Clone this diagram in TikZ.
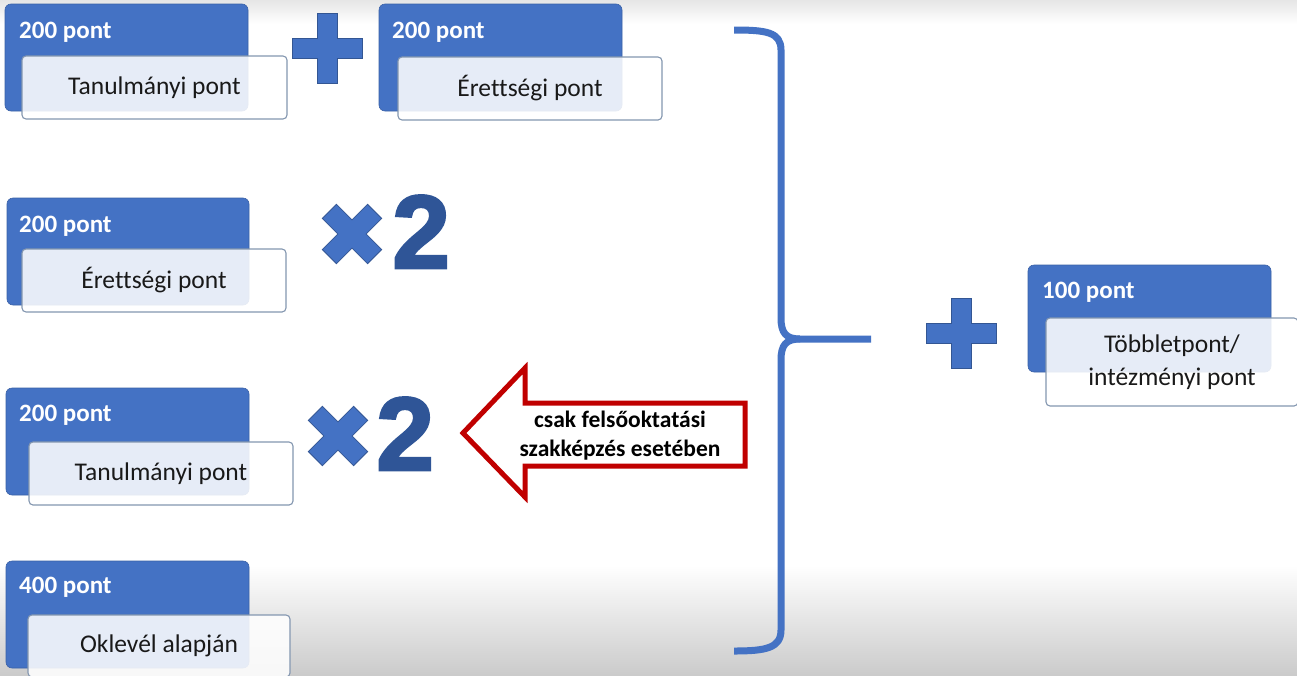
\documentclass[tikz,border=0pt]{standalone}
\usepackage{fontspec}
\setmainfont{Carlito}[Ligatures=NoCommon]
\newfontfamily\twofont{Liberation Sans Bold}[FakeBold=2.5]
\definecolor{myblue}{HTML}{4472C4}
\definecolor{darkblue}{HTML}{2F5597}
\definecolor{boxedge}{HTML}{8497B0}
\definecolor{myred}{HTML}{C00000}
\definecolor{bggray}{HTML}{CBCBCB}
\definecolor{topgray}{HTML}{E6E6E6}
\tikzset{
  blueback/.style={fill=myblue, draw=myblue!85!black, line width=0.6pt, rounded corners=6pt,
    anchor=north west, minimum width=243pt, minimum height=107pt, inner sep=0pt, outer sep=0pt},
  whitebox/.style={fill=white, fill opacity=0.87, text opacity=1, draw=boxedge, line width=1.1pt,
    rounded corners=4pt, anchor=north west, minimum width=265pt, minimum height=63pt,
    inner sep=0pt, outer sep=0pt, text=black!90, font=\fontsize{25.5}{33}\selectfont, align=center},
  headtxt/.style={anchor=west, text=white, inner sep=0pt, font=\fontsize{25}{30}\selectfont\bfseries},
  twotxt/.style={anchor=base west, inner sep=0pt, text=darkblue, font=\twofont\fontsize{104}{110}\selectfont},
  plussign/.pic={
    \filldraw[fill=myblue, draw=myblue!75!black, line width=0.8pt]
      (-10,-#1) -- (10,-#1) -- (10,-10) -- (#1,-10) -- (#1,10) -- (10,10) -- (10,#1)
      -- (-10,#1) -- (-10,10) -- (-#1,10) -- (-#1,-10) -- (-10,-10) -- cycle;
  }
}
\begin{document}
\begin{tikzpicture}[x=1pt,y=-1pt]
\useasboundingbox (0,0) rectangle (1297,675);
% background
\fill[white] (0,0) rectangle (1297,675);
\shade[top color=topgray, bottom color=white] (0,0) rectangle (1297,24);
\shade[top color=white, bottom color=bggray] (0,565) rectangle (1297,675);

% row 1
\node[blueback] (b1) at (5,4) {};
\node[headtxt] (h1) at (19,32) {200 pont};
\node[whitebox] (w1) at (22,56) {Tanulmányi pont};
\pic (p1) at (327.5,48.5) {plussign=35};
\node[blueback] (b2) at (379,4) {};
\node[headtxt] (h2) at (392,32) {200 pont};
\node[whitebox, minimum width=264pt] (w2) at (398,57) {Érettségi pont};

% row 2
\node[blueback, minimum width=242pt] (b3) at (7,198) {};
\node[headtxt] (h3) at (19,226) {200 pont};
\node[whitebox, minimum width=264pt] (w3) at (22,249) {Érettségi pont};
\pic[rotate=45] (x1) at (352,234) {plussign=32};
\node[twotxt] (t1) at (392,268) {2};

% row 3
\node[blueback] (b4) at (6,388) {};
\node[headtxt] (h4) at (19,415) {200 pont};
\node[whitebox, minimum width=264pt] (w4) at (29,442) {Tanulmányi pont};
\pic[rotate=45] (x2) at (338,436) {plussign=32};
\node[twotxt] (t2) at (376,470) {2};

% red arrow
\draw[myred, line width=5pt, fill=white, line join=miter]
  (463,433) -- (525,368) -- (525,403) -- (745,403) -- (745,466) -- (525,466) -- (525,497) -- cycle;
\node[align=center, inner sep=0pt, font=\fontsize{23.5}{29}\selectfont\bfseries] (rt) at (620,436)
  {csak felsőoktatási\\szakképzés esetében};

% row 4
\node[blueback] (b5) at (6,561) {};
\node[headtxt] (h5) at (19,587) {400 pont};
\node[whitebox, minimum width=262pt, minimum height=62pt] (w5) at (28,615) {Oklevél alapján};

% brace
\draw[myblue, line width=7pt, line cap=butt, line join=round]
  (734,30) .. controls (766,30) and (781,32) .. (781,50) -- (781,318)
  .. controls (781,333) and (786,339) .. (800,339) -- (871,339);
\draw[myblue, line width=7pt, line cap=butt, line join=round]
  (800,339) .. controls (786,339) and (781,345) .. (781,360) -- (781,630)
  .. controls (781,648) and (766,651) .. (734,651);

% right
\pic (p2) at (961,333) {plussign=35};
\node[blueback] (b6) at (1028,265) {};
\node[headtxt] (h6) at (1042,292) {100 pont};
\node[whitebox, minimum width=252pt, minimum height=88pt] (w6) at (1046,318) {Többletpont/\\intézményi pont};
\end{tikzpicture}
\end{document}
